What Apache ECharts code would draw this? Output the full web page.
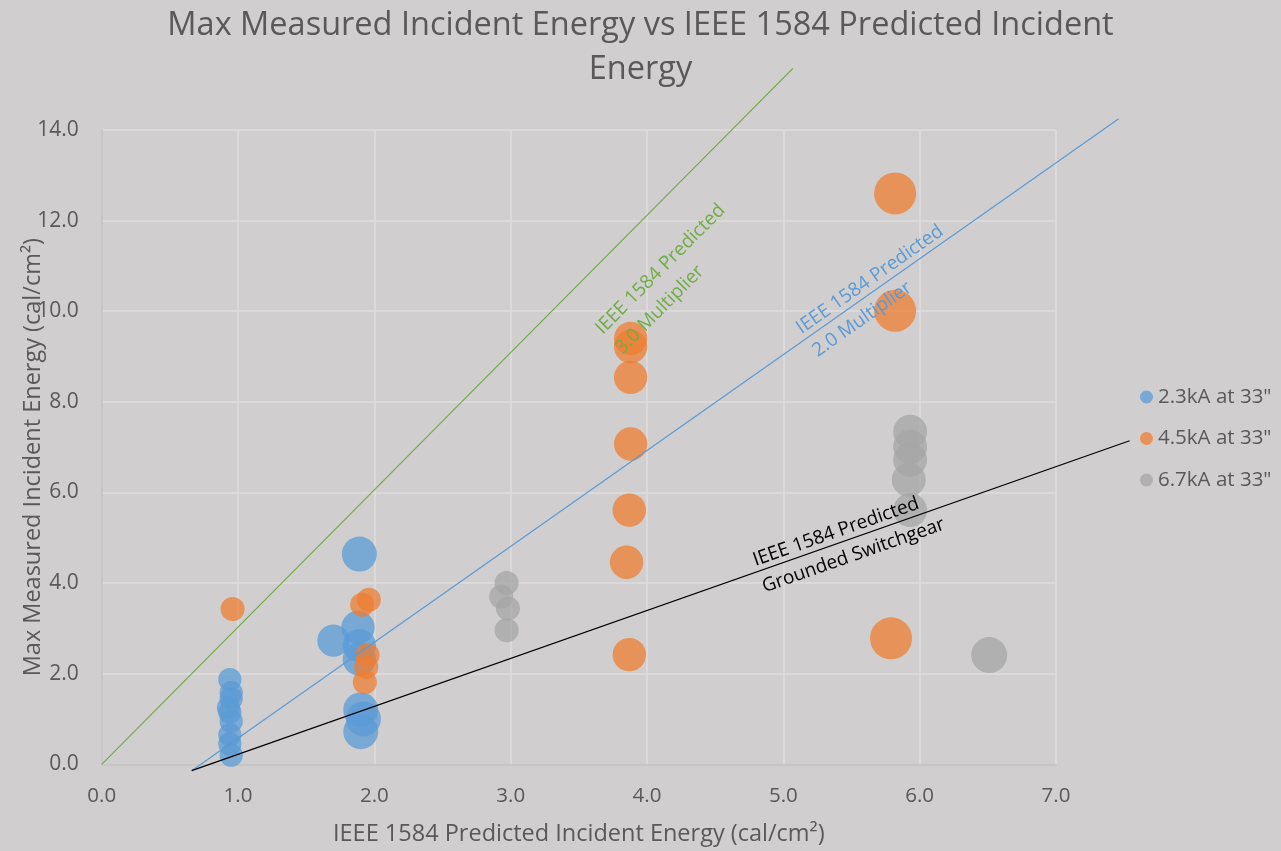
<!DOCTYPE html>
<html>
<head>
<meta charset="utf-8">
<title>Max Measured Incident Energy vs IEEE 1584 Predicted Incident Energy</title>
<script src="https://cdn.jsdelivr.net/npm/echarts@6/dist/echarts.min.js"></script>
<style>
  html, body { margin: 0; padding: 0; background: #d0cece; }
  #chart { width: 1281px; height: 851px; }
</style>
</head>
<body>
<div id="chart"></div>
<script>
// Test points: [predicted cal/cm², measured cal/cm², bubble weight]
const series23kA = [
  [0.94, 1.87, 15], [0.95, 1.58, 15], [0.95, 1.45, 15], [0.93, 1.25, 15],
  [0.94, 1.15, 15], [0.95, 0.95, 15], [0.94, 0.65, 15], [0.94, 0.45, 15],
  [0.95, 0.20, 15],
  [1.89, 4.64, 34], [1.70, 2.73, 29], [1.88, 3.02, 31], [1.89, 2.62, 31],
  [1.89, 2.32, 31], [1.90, 1.20, 34], [1.92, 1.00, 34], [1.90, 0.72, 34]
];
const series45kA = [
  [0.96, 3.43, 16],
  [1.91, 3.52, 16], [1.96, 3.63, 16], [1.95, 2.41, 16], [1.94, 2.15, 16],
  [1.93, 1.81, 16],
  [3.88, 9.40, 31], [3.88, 9.22, 31], [3.88, 8.54, 31], [3.88, 7.07, 31],
  [3.87, 5.61, 31], [3.85, 4.46, 31], [3.87, 2.42, 31],
  [5.82, 12.60, 49], [5.82, 10.01, 49], [5.79, 2.78, 49]
];
const series67kA = [
  [2.97, 4.00, 16], [2.93, 3.70, 16], [2.98, 3.44, 16], [2.97, 2.96, 16],
  [5.93, 7.34, 32], [5.93, 7.01, 32], [5.93, 6.72, 32], [5.92, 6.28, 32],
  [5.93, 5.61, 32],
  [6.51, 2.41, 36]
];
const seriesNames = ['2.3kA at 33"', '4.5kA at 33"', '6.7kA at 33"'];

// Reference lines drawn across the plot: [start point, end point]
const line3xMultiplier = [[0, 0], [5.07, 15.36]];
const line2xMultiplier = [[0.66, -0.14], [7.46, 14.25]];
const lineGrounded = [[0.66, -0.14], [7.54, 7.14]];

// Reference line captions, anchored at the left end of each two-line block (data coordinates)
const captions = [
  { text: 'IEEE 1584 Predicted\n3.0 Multiplier', at: [3.72, 9.34], line: line3xMultiplier, color: '#70ad47' },
  { text: 'IEEE 1584 Predicted\n2.0 Multiplier', at: [5.17, 9.335], line: line2xMultiplier, color: '#5b9bd5' },
  { text: 'IEEE 1584 Predicted\nGrounded Switchgear', at: [4.816, 4.196], line: lineGrounded, color: '#000000' }
];

const xTicks = { min: 0, max: 7, interval: 1 };
const yTicks = { min: 0, max: 14, interval: 2 };

const textGray = '#595959';
const font = '"Open Sans", "Noto Sans", sans-serif';

const chart = echarts.init(document.getElementById('chart'), null, { renderer: 'canvas' });

function bubble(name, data, color) {
  return {
    name: name,
    type: 'scatter',
    data: data,
    symbol: 'circle',
    symbolSize: v => 6 * Math.sqrt(v[2]),
    itemStyle: { color: color, opacity: 0.75 },
    emphasis: { disabled: true },
    z: 2
  };
}

// A straight segment between two data points, allowed to run past the plot edges
function refLine(line, color) {
  return {
    type: 'custom',
    data: [[line[0][0], line[0][1], line[1][0], line[1][1]]],
    encode: { x: [0, 2], y: [1, 3] },
    clip: false,
    silent: true,
    z: 3,
    renderItem: (params, api) => {
      const p0 = api.coord([api.value(0), api.value(1)]);
      const p1 = api.coord([api.value(2), api.value(3)]);
      return {
        type: 'line',
        shape: { x1: p0[0], y1: p0[1], x2: p1[0], y2: p1[1] },
        style: { stroke: color, lineWidth: 1.2, fill: null }
      };
    }
  };
}

chart.setOption({
  backgroundColor: '#d0cece',
  animation: false,
  title: {
    text: 'Max Measured Incident Energy vs IEEE 1584 Predicted Incident\nEnergy',
    left: 'center',
    top: -1,
    textStyle: { color: textGray, fontFamily: font, fontWeight: 'normal', fontSize: 32.5, lineHeight: 44 }
  },
  legend: {
    orient: 'vertical',
    left: 1135,
    top: 381,
    itemWidth: 13,
    itemHeight: 13,
    itemGap: 19.5,
    icon: 'circle',
    data: seriesNames,
    textStyle: { color: textGray, fontFamily: font, fontSize: 20.5, lineHeight: 22 }
  },
  grid: { left: 101.7, right: 225, top: 130, bottom: 86.7, containLabel: false, outerBoundsMode: 'none' },
  xAxis: {
    type: 'value',
    min: xTicks.min, max: xTicks.max, interval: xTicks.interval,
    name: 'IEEE 1584 Predicted Incident Energy (cal/cm²)',
    nameLocation: 'middle',
    nameGap: 58,
    nameTextStyle: { color: textGray, fontFamily: font, fontSize: 23.5 },
    axisLine: { show: true, lineStyle: { color: '#bfbfbf', width: 1.5 } },
    axisTick: { show: false },
    axisLabel: { color: textGray, fontFamily: font, fontSize: 20.5, margin: 21, formatter: v => v.toFixed(1) },
    splitLine: { show: true, lineStyle: { color: '#dfdddd', width: 1.5 } }
  },
  yAxis: {
    type: 'value',
    min: yTicks.min, max: yTicks.max, interval: yTicks.interval,
    name: 'Max Measured Incident Energy (cal/cm²)',
    nameLocation: 'middle',
    nameGap: 56,
    nameMoveOverlap: false,
    nameTextStyle: { color: textGray, fontFamily: font, fontSize: 23.5, padding: [0, 20, 0, 0] },
    axisLine: { show: true, lineStyle: { color: '#bfbfbf', width: 1.5 } },
    axisTick: { show: false },
    axisLabel: { color: textGray, fontFamily: font, fontSize: 21, margin: 23, formatter: v => v.toFixed(1) },
    splitLine: { show: true, lineStyle: { color: '#dfdddd', width: 1.5 } }
  },
  series: [
    bubble(seriesNames[0], series23kA, '#5b9bd5'),
    bubble(seriesNames[1], series45kA, '#ed7d31'),
    bubble(seriesNames[2], series67kA, '#a5a5a5'),
    refLine(line3xMultiplier, '#70ad47'),
    refLine(line2xMultiplier, '#5b9bd5'),
    refLine(lineGrounded, '#000000')
  ]
});

// Place each caption beside its line, turned to the line's on-screen angle
const toPx = p => chart.convertToPixel({ gridIndex: 0 }, p);
chart.setOption({
  graphic: captions.map(c => {
    const a = toPx(c.line[0]);
    const b = toPx(c.line[1]);
    const pos = toPx(c.at);
    return {
      type: 'text',
      x: pos[0],
      y: pos[1],
      rotation: Math.atan2(a[1] - b[1], b[0] - a[0]),
      silent: true,
      z: 10,
      style: {
        text: c.text,
        fill: c.color,
        font: '19px ' + font,
        lineHeight: 28,
        align: 'left',
        verticalAlign: 'middle'
      }
    };
  })
});
</script>
</body>
</html>
